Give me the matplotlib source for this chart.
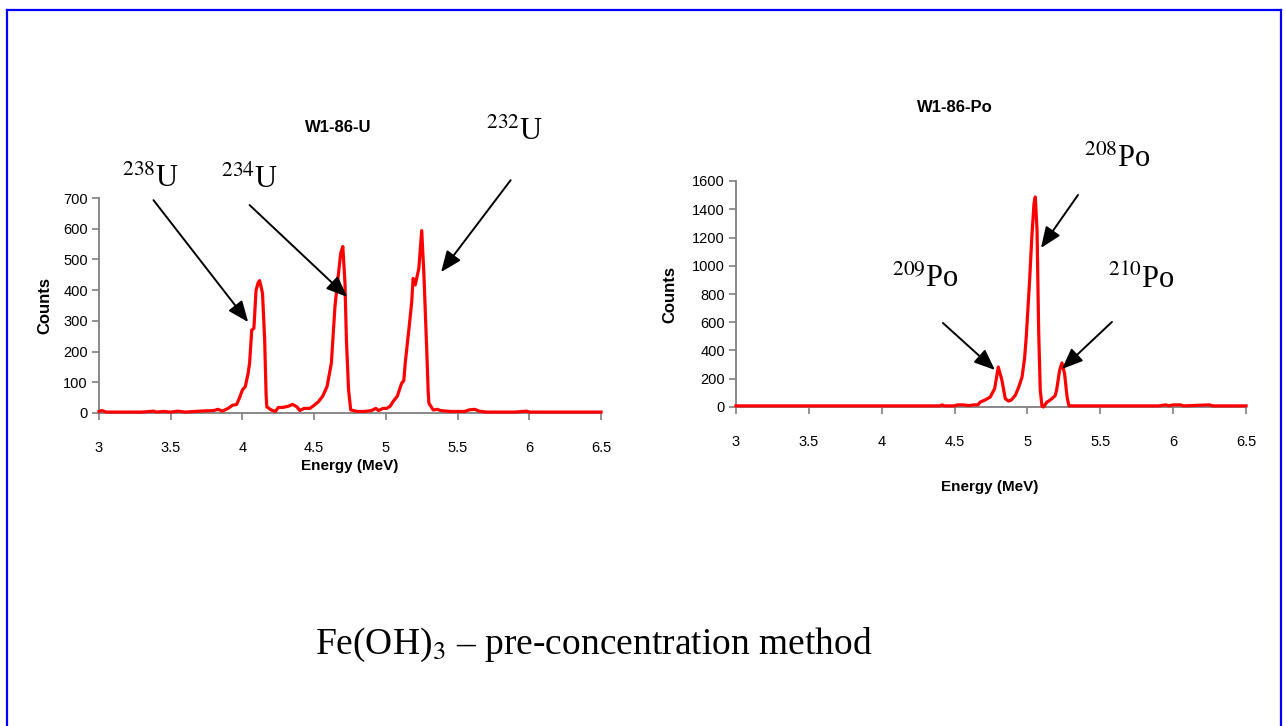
import matplotlib
matplotlib.use("Agg")
import matplotlib.pyplot as plt
from matplotlib.lines import Line2D

plt.rcParams['mathtext.fontset'] = 'stix'

# ---- spectrum W1-86-U ----
u_energy = [3.00, 3.02, 3.05, 3.10, 3.20, 3.30, 3.38, 3.40, 3.45, 3.50, 3.55, 3.60,
            3.70, 3.75, 3.80, 3.83, 3.86, 3.90, 3.93, 3.96, 3.98, 4.00, 4.02, 4.04,
            4.05, 4.065, 4.08, 4.095, 4.11, 4.12, 4.14, 4.155, 4.165, 4.17, 4.20, 4.23,
            4.25, 4.28, 4.32, 4.35, 4.38, 4.40, 4.43, 4.47, 4.50, 4.53, 4.56, 4.59,
            4.62, 4.645, 4.67, 4.685, 4.70, 4.715, 4.725, 4.74, 4.755, 4.80, 4.85, 4.90,
            4.93, 4.95, 4.98, 5.005, 5.03, 5.05, 5.08, 5.11, 5.125, 5.135, 5.16, 5.18,
            5.19, 5.205, 5.23, 5.25, 5.265, 5.285, 5.295, 5.30, 5.33, 5.36, 5.38, 5.45,
            5.55, 5.58, 5.62, 5.65, 5.70, 5.80, 5.90, 5.98, 6.00, 6.20, 6.50]
u_counts = [5, 8, 3, 3, 3, 3, 6, 3, 5, 3, 6, 3,
            6, 7, 8, 12, 6, 15, 25, 28, 50, 75, 86, 130,
            163, 270, 276, 400, 425, 431, 390, 238, 60, 20, 10, 5,
            18, 18, 22, 28, 20, 8, 15, 15, 25, 37, 55, 86,
            162, 346, 455, 520, 542, 422, 238, 75, 10, 5, 5, 8,
            15, 8, 15, 15, 22, 37, 55, 97, 105, 162, 270, 360,
            438, 417, 471, 594, 455, 205, 70, 32, 10, 12, 8, 5,
            5, 10, 12, 6, 3, 3, 3, 6, 3, 3, 3]

# ---- spectrum W1-86-Po ----
po_energy = [3.00, 3.50, 4.00, 4.40, 4.414, 4.43, 4.50, 4.52, 4.56, 4.60, 4.63, 4.66,
             4.676, 4.71, 4.745, 4.775, 4.80, 4.825, 4.848, 4.87, 4.89, 4.917, 4.94,
             4.963, 4.98, 4.992, 5.015, 5.03, 5.045, 5.054, 5.066, 5.077, 5.088, 5.10,
             5.11, 5.134, 5.15, 5.168, 5.19, 5.20, 5.221, 5.237, 5.255, 5.272, 5.285,
             5.40, 5.90, 5.95, 5.97, 6.00, 6.05, 6.07, 6.25, 6.27, 6.50]
po_counts = [8, 8, 8, 8, 15, 8, 8, 15, 15, 10, 15, 15,
             35, 50, 71, 130, 283, 189, 59, 42, 50, 83, 140,
             212, 340, 496, 897, 1200, 1440, 1487, 1251, 543, 118, 5,
             0, 35, 45, 59, 80, 118, 260, 312, 236, 71, 8,
             8, 8, 15, 8, 15, 15, 8, 15, 8, 8]

x_ticks = [3, 3.5, 4, 4.5, 5, 5.5, 6, 6.5]
x_ticklabels = ['3', '3.5', '4', '4.5', '5', '5.5', '6', '6.5']
u_yticks = list(range(0, 701, 100))
po_yticks = list(range(0, 1601, 200))

# peak labels: (label, text position, arrow tail, arrow head) in data units
u_peaks = [(r'$^{238}$U', (3.36, 760), (3.38, 693), (4.04, 296)),
           (r'$^{234}$U', (4.05, 760), (4.05, 677), (4.73, 378)),
           (r'$^{232}$U', (5.90, 912), (5.87, 758), (5.385, 459))]
po_peaks = [(r'$^{208}$Po', (5.62, 1750), (5.347, 1501), (5.093, 1126)),
            (r'$^{209}$Po', (4.30, 900), (4.42, 595), (4.777, 262)),
            (r'$^{210}$Po', (5.78, 900), (5.58, 602), (5.237, 269))]

W, H = 1285, 726
fig = plt.figure(figsize=(W / 100, H / 100), dpi=100)

sans = ['Liberation Sans', 'DejaVu Sans']
serif = ['Liberation Serif', 'DejaVu Serif']
head = '-|>,head_length=0.85,head_width=0.35'


def setup(ax, yticks, ymax):
    for s in ['top', 'right']:
        ax.spines[s].set_visible(False)
    for s in ['left', 'bottom']:
        ax.spines[s].set_color('#808080')
        ax.spines[s].set_linewidth(1.3)
    ax.set_xlim(3, 6.5)
    ax.set_ylim(0, ymax)
    ax.set_xticks(x_ticks)
    ax.set_xticklabels(x_ticklabels)
    ax.set_yticks(yticks)
    ax.tick_params(axis='x', length=5, width=1.2, color='#808080', pad=15, labelsize=10.5)
    ax.tick_params(axis='y', length=5, width=1.2, color='#808080', pad=3, labelsize=10.5)
    for lab in ax.get_xticklabels() + ax.get_yticklabels():
        lab.set_family(sans)


def add_peaks(ax, peaks, size):
    for label, tpos, tail, tip in peaks:
        ax.text(tpos[0], tpos[1], label, fontsize=size, ha='center', va='center',
                family=serif, clip_on=False)
        ax.annotate('', xy=tip, xytext=tail, annotation_clip=False,
                    arrowprops=dict(arrowstyle=head, color='black', lw=1.4,
                                    mutation_scale=15, shrinkA=0, shrinkB=0))


# left chart
ax1 = fig.add_axes([99 / W, 1 - 413 / H, 502 / W, 215 / H])
ax1.plot(u_energy, u_counts, color='#FF0000', lw=2.3, clip_on=False, zorder=3)
setup(ax1, u_yticks, 700)
add_peaks(ax1, u_peaks, 22)

# right chart
ax2 = fig.add_axes([736 / W, 1 - 407 / H, 510 / W, 226 / H])
ax2.plot(po_energy, po_counts, color='#FF0000', lw=2.3, clip_on=False, zorder=3)
setup(ax2, po_yticks, 1600)
add_peaks(ax2, po_peaks, 22)

# titles and axis labels
fig.text(338 / W, 1 - 128 / H, 'W1-86-U', ha='center', va='center',
         fontsize=12, fontweight='bold', family=sans)
fig.text(955 / W, 1 - 108 / H, 'W1-86-Po', ha='center', va='center',
         fontsize=12, fontweight='bold', family=sans)
fig.text(350 / W, 1 - 466 / H, 'Energy (MeV)', ha='center', va='center',
         fontsize=11, fontweight='bold', family=sans)
fig.text(990 / W, 1 - 487 / H, 'Energy (MeV)', ha='center', va='center',
         fontsize=11, fontweight='bold', family=sans)
fig.text(45 / W, 1 - 305 / H, 'Counts', ha='center', va='center', rotation=90,
         fontsize=12, fontweight='bold', family=sans)
fig.text(670 / W, 1 - 295 / H, 'Counts', ha='center', va='center', rotation=90,
         fontsize=12, fontweight='bold', family=sans)

# caption
fig.text(594 / W, 1 - 645 / H, r'Fe(OH)$_3$ – pre-concentration method',
         ha='center', va='center', fontsize=27, family=serif)

# blue frame
for xs, ys in [([7 / W, 7 / W], [0, 1 - 10 / H]),
               ([7 / W, 1281 / W], [1 - 10 / H, 1 - 10 / H]),
               ([1281 / W, 1281 / W], [0, 1 - 10 / H])]:
    fig.add_artist(Line2D(xs, ys, color='#0000FF', lw=1.6))

fig.savefig('out.png', dpi=100)
